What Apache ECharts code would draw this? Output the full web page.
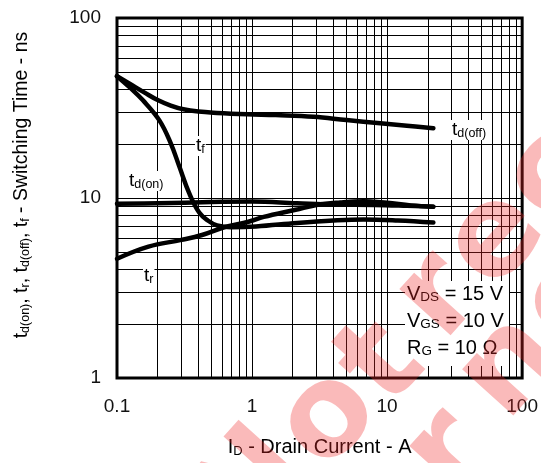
<!DOCTYPE html>
<html><head><meta charset="utf-8">
<script src="https://cdn.jsdelivr.net/npm/echarts@6/dist/echarts.min.js"></script>
<style>html,body{margin:0;padding:0;background:#fff}#c{width:541px;height:463px}</style>
</head><body><div id="c"></div>
<script>
const FF = '"Liberation Sans", Arial, Helvetica, sans-serif';

// Tick labels
const xTickLabels = ['0.1', '1', '10', '100'];
const yTickLabels = ['1', '10', '100'];
// Minor grid positions (log grid)
const xMinorGrid = [0.2,0.3,0.4,0.5,0.6,0.7,0.8,0.9, 2,3,4,5,6,7,8,9, 20,30,40,50,60,70,80,90];
const yMinorGrid = [2,3,4,5,6,7,8,9, 20,30,40,50,60,70,80,90];

// Series: [ID (A), time (ns)]
const tdOff = [[0.1,47.5],[0.125,43],[0.16,38.5],[0.2,35],[0.25,32.6],[0.31,31.1],[0.4,30.2],[0.55,29.7],[0.92,29.2],[1.5,28.9],[2.85,28.3],[5,27.1],[8.9,26],[14,25.2],[22,24.4]];
const tf = [[0.1,47.5],[0.125,41],[0.155,35],[0.206,27],[0.251,20],[0.289,15],[0.343,10.6],[0.406,8.3],[0.47,7.5],[0.55,7.05],[0.7,6.88],[1.07,6.95],[2.15,7.27],[4,7.5],[6.7,7.6],[12,7.5],[22,7.3]];
const tdOn = [[0.1,9.3],[0.2,9.35],[0.5,9.5],[1,9.55],[2.15,9.35],[4,9.2],[8,9.15],[14,9.05],[22,8.95]];
const tr = [[0.1,4.6],[0.171,5.37],[0.3,5.85],[0.426,6.23],[0.63,6.9],[0.94,7.38],[1.22,7.85],[2.1,8.6],[3,9.15],[4.5,9.45],[6.7,9.6],[10,9.4],[15,9.1],[22,8.95]];

function tickFmt(labels, minExp) {
  return function (v) {
    const i = Math.round(Math.log10(v)) - minExp;
    return labels[i] !== undefined ? labels[i] : '';
  };
}

function curve(name, data) {
  return {
    name: name, type: 'line', data: data, showSymbol: false, symbol: 'none',
    smooth: 0.4, z: 5, silent: true, animation: false,
    lineStyle: { color: '#000', width: 4.5, cap: 'round', join: 'round' }
  };
}

const big = { fontSize: 19, fontFamily: FF, fill: '#000', lineHeight: 20 };
const sub = { fontSize: 12.5, fontFamily: FF, fill: '#000', verticalAlign: 'bottom' };
function lbl(x, y, text) {
  return {
    type: 'text', x: x, y: y, z: 50,
    style: { text: text, rich: { t: big, s: sub }, align: 'left', verticalAlign: 'middle', backgroundColor: '#fff', padding: [0, 1] }
  };
}

const boxBig = { fontSize: 20, fontFamily: FF, fill: '#000', lineHeight: 20 };
const boxSub = { fontSize: 13.5, fontFamily: FF, fill: '#000', verticalAlign: 'bottom' };
function boxLine(y, text) {
  return { type: 'text', x: 407, y: y, z: 45,
    style: { text: text, rich: { t: boxBig, s: boxSub }, align: 'left', verticalAlign: 'middle' } };
}

const wmColor = 'rgba(240,40,40,0.32)';
const wmRot = 48 * Math.PI / 180;
const watermark = [
  ['N', 255, 490], ['o', 330, 420], ['t', 384, 366], ['r', 440, 298], ['e', 497, 240], ['c', 552, 178],
  ['r', 450, 455], ['n', 512, 368], ['e', 574, 300]
].map(function (w) {
  return { type: 'text', x: w[1], y: w[2], rotation: wmRot, z: 100, silent: true,
    style: { text: w[0], fontSize: 126, fontWeight: 'bold', fontFamily: '"DejaVu Sans", sans-serif', fill: wmColor, align: 'center', verticalAlign: 'middle' } };
});

const chart = echarts.init(document.getElementById('c'), null, { renderer: 'canvas' });
chart.setOption({
  animation: false,
  backgroundColor: '#fff',
  grid: { left: 117, right: 18, top: 18, bottom: 85, show: true, borderColor: '#000', borderWidth: 3, backgroundColor: 'transparent' },
  xAxis: {
    type: 'log', logBase: 10, min: 0.1, max: 100,
    axisLine: { show: false }, axisTick: { show: false },
    splitLine: { show: true, lineStyle: { color: '#000', width: 1 } },
    axisLabel: { fontSize: 19, color: '#111', fontFamily: FF, margin: 19, formatter: tickFmt(xTickLabels, -1) },
    name: '{b|I}{s|D}{b| - Drain Current - A}', nameLocation: 'middle', nameGap: 59,
    nameTextStyle: { rich: { b: { fontSize: 20, fontFamily: FF, color: '#000', lineHeight: 21 }, s: { fontSize: 13, fontFamily: FF, color: '#000', verticalAlign: 'bottom' } } }
  },
  yAxis: {
    type: 'log', logBase: 10, min: 1, max: 100,
    axisLine: { show: false }, axisTick: { show: false },
    splitLine: { show: true, lineStyle: { color: '#000', width: 1 } },
    axisLabel: { fontSize: 19, color: '#111', fontFamily: FF, margin: 16, formatter: tickFmt(yTickLabels, 0) }
  },
  series: [
    {
      type: 'line', data: [[0.1, 1]], showSymbol: false, symbol: 'none', z: 1, silent: true,
      lineStyle: { width: 0, opacity: 0 },
      markLine: {
        silent: true, symbol: ['none', 'none'], label: { show: false }, animation: false,
        lineStyle: { color: '#000', width: 1, type: 'solid' },
        emphasis: { disabled: true },
        data: xMinorGrid.map(function (v) { return { xAxis: v }; }).concat(yMinorGrid.map(function (v) { return { yAxis: v }; }))
      }
    },
    curve('td(off)', tdOff),
    curve('tf', tf),
    curve('td(on)', tdOn),
    curve('tr', tr)
  ],
  graphic: [
    lbl(451, 130, '{t|t}{s|d(off)}'),
    lbl(195, 146, '{t|t}{s|f}'),
    lbl(128, 181, '{t|t}{s|d(on)}'),
    lbl(143, 276, '{t|t}{s|r}'),
    { type: 'rect', z: 40, shape: { x: 405, y: 281, width: 104, height: 85 }, style: { fill: '#fff' } },
    boxLine(294, '{t|V}{s|DS}{t| = 15 V}'),
    boxLine(321, '{t|V}{s|GS}{t| = 10 V}'),
    boxLine(348, '{t|R}{s|G}{t| = 10 Ω}'),
    { type: 'text', x: 22, y: 185, rotation: Math.PI / 2, z: 50,
      style: { text: '{t|t}{s|d(on)}{t|, t}{s|r}{t|, t}{s|d(off)}{t|, t}{s|f}{t| - Switching Time - ns}',
        rich: { t: { fontSize: 19.5, fontFamily: FF, fill: '#000', lineHeight: 20 }, s: { fontSize: 12.5, fontFamily: FF, fill: '#000', verticalAlign: 'bottom' } },
        align: 'center', verticalAlign: 'middle' } }
  ].concat(watermark)
});
</script>
</body></html>
